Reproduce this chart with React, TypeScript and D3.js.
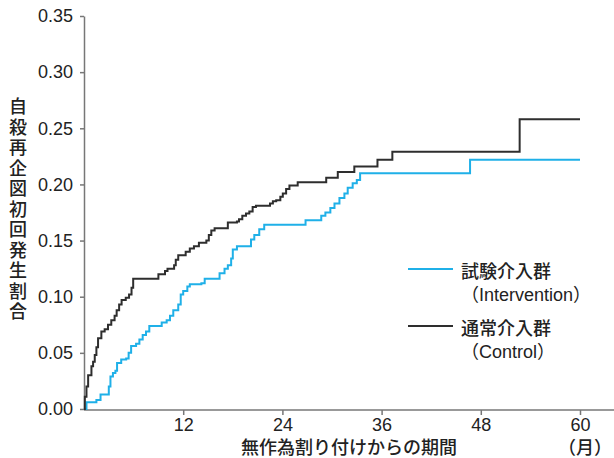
import React, { useRef, useEffect } from "react";
import * as d3 from "d3";

// Kaplan-Meier style cumulative incidence (months, proportion)
const interventionMonths = [0, 0.3, 1.5, 2.0, 3.0, 3.2, 3.5, 3.8, 4.0, 4.5, 5.1, 5.4, 5.7, 6.3, 6.7, 7.1, 7.5, 7.9, 9.4, 10.0, 10.4, 10.8, 11.4, 11.7, 12.0, 12.5, 12.8, 14.2, 14.6, 16.4, 17.0, 17.4, 17.8, 18.0, 18.5, 20.2, 20.6, 21.2, 21.8, 26.8, 28.7, 29.2, 29.8, 30.3, 30.9, 31.5, 31.9, 32.5, 33.0, 33.4, 46.7, 60];
const interventionValues = [0, 0.006, 0.008, 0.013, 0.02, 0.029, 0.032, 0.034, 0.041, 0.044, 0.045, 0.05, 0.056, 0.058, 0.062, 0.066, 0.069, 0.074, 0.077, 0.079, 0.083, 0.088, 0.093, 0.102, 0.105, 0.109, 0.111, 0.112, 0.116, 0.121, 0.125, 0.128, 0.134, 0.142, 0.145, 0.151, 0.155, 0.16, 0.164, 0.168, 0.172, 0.175, 0.179, 0.183, 0.188, 0.192, 0.197, 0.201, 0.204, 0.21, 0.222, 0.222];

const controlMonths = [0, 0.1, 0.3, 0.5, 0.9, 1.1, 1.3, 1.5, 1.7, 2.1, 2.5, 2.9, 3.3, 3.7, 3.95, 4.25, 4.55, 5.05, 5.45, 5.75, 5.95, 9.0, 9.8, 10.1, 10.9, 11.1, 11.4, 12.3, 12.8, 13.3, 13.9, 14.8, 15.1, 15.4, 15.8, 17.4, 18.5, 18.75, 19.15, 19.6, 20.0, 20.4, 20.8, 22.5, 22.85, 23.25, 23.75, 24.05, 24.45, 24.85, 25.85, 29.3, 30.7, 32.7, 35.5, 37.3, 52.7, 60];
const controlValues = [0, 0.011, 0.02, 0.03, 0.038, 0.042, 0.048, 0.055, 0.063, 0.069, 0.071, 0.075, 0.079, 0.083, 0.088, 0.093, 0.097, 0.099, 0.102, 0.108, 0.116, 0.12, 0.123, 0.125, 0.128, 0.133, 0.137, 0.14, 0.143, 0.145, 0.148, 0.15, 0.155, 0.159, 0.161, 0.166, 0.167, 0.169, 0.172, 0.174, 0.176, 0.18, 0.181, 0.183, 0.185, 0.186, 0.189, 0.192, 0.196, 0.199, 0.202, 0.206, 0.211, 0.216, 0.222, 0.229, 0.258, 0.258];

const yTicks = [0, 0.05, 0.1, 0.15, 0.2, 0.25, 0.3, 0.35];
const xTicks = [12, 24, 36, 48, 60];

const seriesNames = ["試験介入群", "通常介入群"];
const seriesSubNames = ["（Intervention）", "（Control）"];
const seriesColors = ["#1fb0e8", "#2e2e2e"];

const yTitle = "自殺再企図初回発生割合";
const xTitle = "無作為割り付けからの期間";
const xUnit = "（月）";

const latinFont = "'Liberation Sans', Arial, 'Noto Sans CJK JP', sans-serif";
const jpFont = "'Noto Sans CJK JP', sans-serif";

const Chart = () => {
  const svgRef = useRef<SVGSVGElement | null>(null);

  useEffect(() => {
    const width = 614;
    const height = 458;

    const svg = d3.select(svgRef.current).attr("width", width).attr("height", height);
    svg.selectAll("*").remove();

    // Scales
    const xScale = d3.scaleLinear().domain([0, 60]).range([84, 580]);
    const yScale = d3.scaleLinear().domain([0, 0.35]).range([409, 16]);

    // Y axis
    const yAxis = d3
      .axisLeft(yScale)
      .tickValues(yTicks)
      .tickSize(4)
      .tickSizeOuter(0)
      .tickPadding(7)
      .tickFormat((d) => d3.format(".2f")(d as number));

    const yG = svg.append("g").attr("transform", "translate(84,0)").call(yAxis);
    yG.selectAll("path, line").attr("stroke", "#777").attr("stroke-width", 1.5);
    yG.selectAll("text")
      .attr("fill", "#222")
      .style("font-family", latinFont)
      .style("font-size", "18px");

    // X axis
    const xAxis = d3
      .axisBottom(xScale)
      .tickValues(xTicks)
      .tickSize(5)
      .tickSizeOuter(0)
      .tickPadding(3)
      .tickFormat((d) => `${d}`);

    const xG = svg.append("g").attr("transform", "translate(0,410)").call(xAxis);
    xG.select(".domain").remove();
    xG.selectAll("line").attr("stroke", "#777").attr("stroke-width", 1.5);
    xG.selectAll("text")
      .attr("fill", "#222")
      .style("font-family", latinFont)
      .style("font-size", "18px");

    svg
      .append("line")
      .attr("x1", 84)
      .attr("x2", width)
      .attr("y1", 410)
      .attr("y2", 410)
      .attr("stroke", "#777")
      .attr("stroke-width", 1.5);

    // Axis titles
    svg
      .append("text")
      .attr("x", 349)
      .attr("y", 446)
      .attr("text-anchor", "middle")
      .attr("dominant-baseline", "central")
      .attr("fill", "#222")
      .style("font-family", jpFont)
      .style("font-weight", 500)
      .style("font-size", "18px")
      .text(xTitle);

    svg
      .append("text")
      .attr("x", 612)
      .attr("y", 446)
      .attr("text-anchor", "end")
      .attr("dominant-baseline", "central")
      .attr("fill", "#222")
      .style("font-family", jpFont)
      .style("font-weight", 500)
      .style("font-size", "18px")
      .text(xUnit);

    // vertical y title, one text element
    svg
      .append("text")
      .attr("x", 18)
      .attr("y", 210)
      .attr("text-anchor", "middle")
      .attr("writing-mode", "vertical-rl")
      .style("text-orientation", "upright")
      .style("letter-spacing", "2.5px")
      .attr("fill", "#222")
      .style("font-family", jpFont)
      .style("font-weight", 500)
      .style("font-size", "18px")
      .text(yTitle);

    // Step lines
    const lineGenerator = d3
      .line<[number, number]>()
      .x((d) => xScale(d[0]))
      .y((d) => yScale(d[1]))
      .curve(d3.curveStepAfter);

    const series: [number, number][][] = [
      interventionMonths.map((m, i) => [m, interventionValues[i]]),
      controlMonths.map((m, i) => [m, controlValues[i]]),
    ];

    series.forEach((s, i) => {
      svg
        .append("path")
        .datum(s)
        .attr("d", lineGenerator)
        .attr("fill", "none")
        .attr("stroke", seriesColors[i])
        .attr("stroke-width", 2);
    });

    // Legend
    const legendY = [269, 326];
    const legend = svg.append("g");
    seriesNames.forEach((name, i) => {
      legend
        .append("line")
        .attr("x1", 408)
        .attr("x2", 453)
        .attr("y1", legendY[i])
        .attr("y2", legendY[i])
        .attr("stroke", seriesColors[i])
        .attr("stroke-width", 2);
      legend
        .append("text")
        .attr("x", 461)
        .attr("y", legendY[i] + 1)
        .attr("dominant-baseline", "central")
        .attr("fill", "#222")
        .style("font-family", jpFont)
        .style("font-weight", 500)
        .style("font-size", "18px")
        .text(name);
      legend
        .append("text")
        .attr("x", 461)
        .attr("y", legendY[i] + 26)
        .attr("dominant-baseline", "central")
        .attr("fill", "#222")
        .style("font-family", latinFont)
        .style("font-size", "18px")
        .text(seriesSubNames[i]);
    });
  }, []);

  return <svg ref={svgRef} style={{ position: "absolute", left: 0, top: 0 }} />;
};

const App = () => {
  return <Chart />;
};

export default App;
